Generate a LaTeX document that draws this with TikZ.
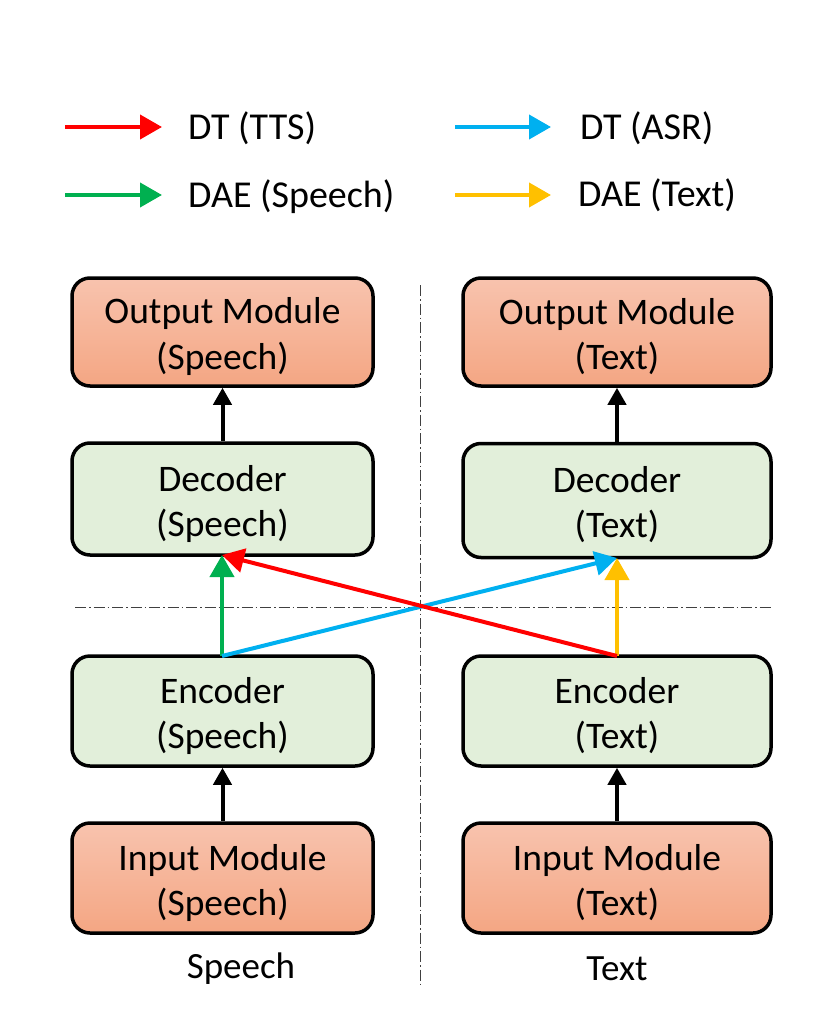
\documentclass[tikz,border=0pt]{standalone}
\usepackage{fontspec}
\setmainfont{Carlito}
\usetikzlibrary{arrows.meta}
\definecolor{cred}{HTML}{FF0000}
\definecolor{cblue}{HTML}{00B0F0}
\definecolor{cgreen}{HTML}{00B050}
\definecolor{cyellow}{HTML}{FFC000}
\definecolor{otop}{HTML}{F8C3AE}
\definecolor{obot}{HTML}{F4A683}
\definecolor{gfill}{HTML}{E2EFDA}
\tikzset{
  box/.style={draw=black, line width=3.5pt, rounded corners=18pt, inner sep=0pt},
  boxtext/.style={align=center, font=\fontsize{37.5}{45}\selectfont, inner sep=0pt, yshift=-4.5pt},
  orangebox/.style={box, top color=otop, bottom color=obot},
  greenbox/.style={box, fill=gfill},
  arr/.style={line width=4pt, -{Triangle[length=22pt,width=24pt]}},
  blk/.style={line width=4pt, -{Triangle[length=17pt,width=18pt]}},
  sep/.style={line width=1pt, dash pattern=on 11pt off 3pt on 1.5pt off 3pt, black!75},
  lbl/.style={font=\fontsize{38}{44}\selectfont, anchor=west, inner sep=0pt},
}
\begin{document}
\begin{tikzpicture}[x=1pt,y=-1pt]
\useasboundingbox (0,0) rectangle (832,1032);
% separators
\draw[sep] (420,285) -- (420,985);
\draw[sep] (75,607) -- (771,607);
% boxes left
\node[orangebox, minimum width=301pt, minimum height=108pt] (outS) at (222.5,332) {};
\node[greenbox, minimum width=301pt, minimum height=112pt] (decS) at (222.5,499) {};
\node[greenbox, minimum width=301pt, minimum height=110pt] (encS) at (222.5,711) {};
\node[orangebox, minimum width=301pt, minimum height=110pt] (inS) at (222.5,878) {};
% boxes right
\node[orangebox, minimum width=308pt, minimum height=108pt] (outT) at (617,332) {};
\node[greenbox, minimum width=308pt, minimum height=114pt] (decT) at (617,500.5) {};
\node[greenbox, minimum width=308pt, minimum height=110pt] (encT) at (617,711) {};
\node[orangebox, minimum width=308pt, minimum height=110pt] (inT) at (617,878) {};
% box texts
\node[boxtext] (outSt) at (outS.center) {Output Module\\(Speech)};
\node[boxtext] (decSt) at (decS.center) {Decoder\\(Speech)};
\node[boxtext] (encSt) at (encS.center) {Encoder\\(Speech)};
\node[boxtext] (inSt) at (inS.center) {Input Module\\(Speech)};
\node[boxtext] (outTt) at (outT.center) {Output Module\\(Text)};
\node[boxtext] (decTt) at (decT.center) {Decoder\\(Text)};
\node[boxtext] (encTt) at (encT.center) {Encoder\\(Text)};
\node[boxtext] (inTt) at (inT.center) {Input Module\\(Text)};
% black arrows
\draw[blk] (decS.north) -- (outS.south);
\draw[blk] (decT.north) -- (outT.south);
\draw[blk] (inS.north) -- (encS.south);
\draw[blk] (inT.north) -- (encT.south);
% coloured arrows
\coordinate (eS) at (222,656);
\coordinate (eT) at (617,656);
\coordinate (dS) at (222,555);
\coordinate (dT) at (617,558);
\draw[arr, cgreen] (eS) -- (dS);
\draw[arr, cyellow] (eT) -- (dT);
\draw[arr, cblue] (eS) -- (dT);
\draw[arr, cred] (eT) -- (dS);
% legend
\coordinate (l1a) at (65,127); \coordinate (l1b) at (162,127);
\coordinate (l2a) at (65,195); \coordinate (l2b) at (162,195);
\coordinate (l3a) at (455,127); \coordinate (l3b) at (551,127);
\coordinate (l4a) at (455,195); \coordinate (l4b) at (551,195);
\draw[arr, cred] (l1a) -- (l1b);
\draw[arr, cgreen] (l2a) -- (l2b);
\draw[arr, cblue] (l3a) -- (l3b);
\draw[arr, cyellow] (l4a) -- (l4b);
\node[lbl] (t1) at (188,128) {DT (TTS)};
\node[lbl] (t2) at (188,197) {DAE (Speech)};
\node[lbl] (t3) at (580,128) {DT (ASR)};
\node[lbl] (t4) at (578,195) {DAE (Text)};
% column labels
\node[font=\fontsize{37}{42}\selectfont] (sp) at (241,969) {Speech};
\node[font=\fontsize{37}{42}\selectfont] (tx) at (617,969) {Text};
\end{tikzpicture}
\end{document}
